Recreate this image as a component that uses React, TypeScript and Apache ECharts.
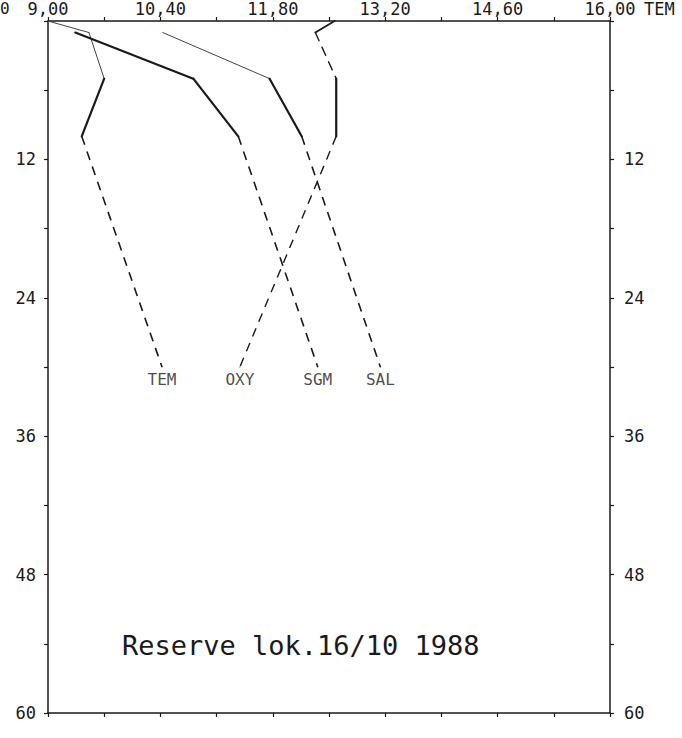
import React, { useEffect, useRef } from "react";
import * as echarts from "echarts";

// depth levels (m) of the measured points, and of the extrapolated bottom point
const depths = [0, 1, 5, 10];
const bottomDepth = 30;

// values read in the units of the printed TEM axis (9,00 … 16,00)
const temValues = [9.0, 9.51, 9.7, 9.42];
const temBottom = 10.42;
const sgmValues = [null, 9.34, 10.81, 11.37];
const sgmBottom = 12.36;
const salValues = [null, 10.43, 11.76, 12.16];
const salBottom = 13.14;
const oxyValues = [12.57, 12.33, 12.59, 12.59];
const oxyBottom = 11.39;

// axis description
const axisStart = 9.0;
const axisStep = 0.7; // one tick step
const axisSteps = 10;
const depthMax = 60;
const depthTickStep = 6;
const depthLabelStep = 12;
const titleText = "Reserve lok.16/10 1988";

const toX = (v: number) => (v - axisStart) / axisStep;
const fmtX = (s: number) => (axisStart + s * axisStep).toFixed(2).replace(".", ",");

const INK = "#1a1a1a";
const MONO = "'DejaVu Sans Mono', 'Liberation Mono', monospace";

function seg(values: (number | null)[], from: number, to: number, width: number, dashed = false, color = INK) {
  const data: number[][] = [];
  for (let k = from; k <= to; k++) {
    const v = values[k];
    if (v !== null && v !== undefined) data.push([toX(v), depths[k]]);
  }
  return {
    type: "line",
    data,
    symbol: "none",
    silent: true,
    lineStyle: { color, width, type: dashed ? [9, 7] : "solid", cap: "round" },
    z: 3,
  };
}

function tail(values: (number | null)[], bottom: number, width = 1.6) {
  return {
    type: "line",
    data: [
      [toX(values[3] as number), depths[3]],
      [toX(bottom), bottomDepth],
    ],
    symbol: "none",
    silent: true,
    lineStyle: { color: INK, width, type: [9, 7] },
    z: 3,
  };
}

export default function App() {
  const ref = useRef<HTMLDivElement>(null);
  useEffect(() => {
    if (!ref.current) return;
    const chart = echarts.init(ref.current, undefined, { renderer: "svg" });
    const axisLine = { show: true, onZero: false, lineStyle: { color: INK, width: 1.5 } };
    const tick = { show: true, inside: false, length: 4, lineStyle: { color: INK, width: 1.2 } };
    const labelStyle = { color: INK, fontFamily: MONO, fontSize: 17 };
    const labels = [
      { name: "TEM", v: temBottom },
      { name: "OXY", v: oxyBottom },
      { name: "SGM", v: sgmBottom },
      { name: "SAL", v: salBottom },
    ];
    chart.setOption({
      animation: false,
      backgroundColor: "#ffffff",
      grid: { left: 48, right: 72, top: 13, bottom: 25, containLabel: false },
      xAxis: [
        {
          type: "value",
          position: "top",
          min: 0,
          max: axisSteps,
          interval: 1,
          axisLine,
          splitLine: { show: false },
          axisTick: tick,
          axisLabel: {
            ...labelStyle,
            margin: 4,
            formatter: (v: number) => (Math.round(v) % 2 === 0 ? fmtX(v) : ""),
          },
        },
        {
          type: "value",
          position: "bottom",
          min: 0,
          max: axisSteps,
          interval: 1,
          axisLine,
          splitLine: { show: false },
          axisTick: tick,
          axisLabel: { show: false },
        },
      ],
      yAxis: [
        {
          type: "value",
          inverse: true,
          position: "left",
          min: 0,
          max: depthMax,
          interval: depthTickStep,
          axisLine,
          splitLine: { show: false },
          axisTick: tick,
          axisLabel: {
            ...labelStyle,
            margin: 12,
            formatter: (v: number) => (v > 0 && v % depthLabelStep === 0 ? String(v) : ""),
          },
        },
        {
          type: "value",
          inverse: true,
          position: "right",
          min: 0,
          max: depthMax,
          interval: depthTickStep,
          axisLine,
          splitLine: { show: false },
          axisTick: tick,
          axisLabel: {
            ...labelStyle,
            margin: 14,
            formatter: (v: number) => (v > 0 && v % depthLabelStep === 0 ? String(v) : ""),
          },
        },
      ],
      graphic: [
        {
          type: "text",
          left: 0,
          top: 0,
          style: { text: "0", fill: INK, font: `16px ${MONO}` },
        },
        {
          type: "text",
          left: 644,
          top: 0,
          style: { text: "TEM", fill: INK, font: `17px ${MONO}` },
        },
        {
          type: "text",
          left: 122,
          top: 632,
          style: { text: titleText, fill: INK, font: `27px ${MONO}` },
        },
      ],
      series: [
        // TEM
        seg(temValues, 0, 1, 1, false, "#444"),
        seg(temValues, 1, 2, 1, false, "#444"),
        seg(temValues, 2, 3, 2.2),
        tail(temValues, temBottom),
        // SGM
        seg(sgmValues, 1, 2, 2.2),
        seg(sgmValues, 2, 3, 2.2),
        tail(sgmValues, sgmBottom),
        // SAL
        seg(salValues, 1, 2, 1, false, "#444"),
        seg(salValues, 2, 3, 2.2),
        tail(salValues, salBottom),
        // OXY
        seg(oxyValues, 0, 1, 1.8),
        seg(oxyValues, 1, 2, 1.4, true),
        seg(oxyValues, 2, 3, 2.2),
        tail(oxyValues, oxyBottom, 1.4),
        // curve names at the bottom end of each curve
        {
          type: "scatter",
          silent: true,
          symbol: "circle",
          symbolSize: 1,
          itemStyle: { color: INK },
          z: 4,
          data: labels.map((l) => ({
            value: [toX(l.v), bottomDepth],
            label: {
              show: true,
              position: "bottom",
              distance: 4,
              formatter: l.name,
              color: INK,
              fontFamily: MONO,
              fontSize: 16,
            },
          })),
        },
      ],
    });
    return () => chart.dispose();
  }, []);
  return (
    <div
      ref={ref}
      style={{ position: "absolute", left: 0, top: 0, width: 682, height: 738, background: "#fff" }}
    />
  );
}
